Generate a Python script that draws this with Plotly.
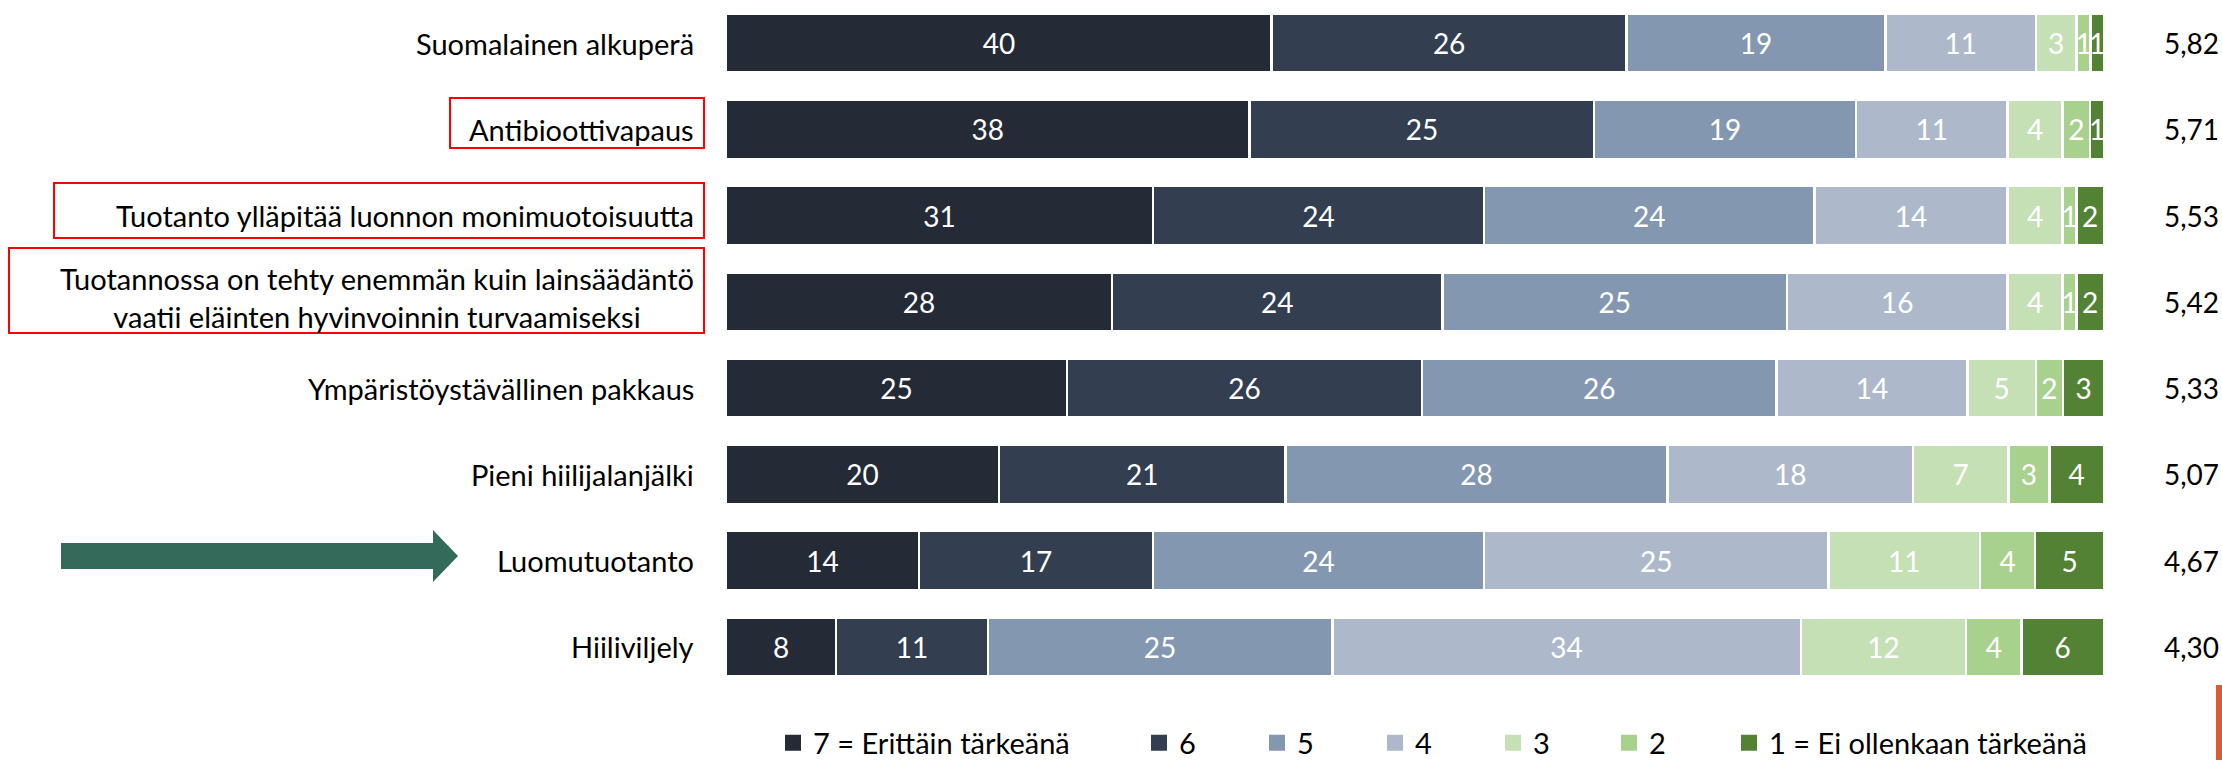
import plotly.graph_objects as go

# ---------------- data ----------------
categories = [
    "Suomalainen alkuperä",
    "Antibioottivapaus",
    "Tuotanto ylläpitää luonnon monimuotoisuutta",
    "Tuotannossa on tehty enemmän kuin lainsäädäntö<br>vaatii eläinten hyvinvoinnin turvaamiseksi",
    "Ympäristöystävällinen pakkaus",
    "Pieni hiilijalanjälki",
    "Luomutuotanto",
    "Hiiliviljely",
]
series_names = ["7 = Erittäin tärkeänä", "6", "5", "4", "3", "2", "1 = Ei ollenkaan tärkeänä"]
v7 = [40, 38, 31, 28, 25, 20, 14, 8]
v6 = [26, 25, 24, 24, 26, 21, 17, 11]
v5 = [19, 19, 24, 25, 26, 28, 24, 25]
v4 = [11, 11, 14, 16, 14, 18, 25, 34]
v3 = [3, 4, 4, 4, 5, 7, 11, 12]
v2 = [1, 2, 1, 1, 2, 3, 4, 4]
v1 = [1, 1, 2, 2, 3, 4, 5, 6]
means = ["5,82", "5,71", "5,53", "5,42", "5,33", "5,07", "4,67", "4,30"]

series_values = [v7, v6, v5, v4, v3, v2, v1]
colors = ["#242a36", "#333f50", "#8497b0", "#adb9ca", "#c5e0b4", "#a9d18e", "#548235"]

# ---------------- geometry helpers (pixels -> paper) ----------------
W, H = 2222, 760
L, R, T, B = 726, 2104, 0, 690
def px(X):
    return (X - L) / (R - L)
def py(Y):
    return (B - Y) / (B - T)

FONT = "Lato, Carlito, Calibri, sans-serif"
FS_LABEL = 29
FS_NUM = 28
FS_LEG = 29

fig = go.Figure()
for i, (name, vals, col) in enumerate(zip(series_names, series_values, colors)):
    fig.add_trace(go.Bar(
        y=categories, x=vals, name=name, orientation="h",
        marker=dict(color=col, line=dict(color="white", width=2.5)),
        text=[str(v) for v in vals], texttemplate="%{text}",
        textposition="inside", insidetextanchor="middle", textangle=0,
        textfont=dict(color="white", size=FS_NUM, family=FONT),
        showlegend=False, hoverinfo="skip",
    ))

# legend entries (one legend box per entry so spacing matches the reference)
legend_left = [786, 1152, 1270, 1388, 1506, 1622, 1742]
layout_legends = {}
for i, (name, col, sq) in enumerate(zip(series_names, colors, legend_left)):
    lg = "legend" if i == 0 else f"legend{i+1}"
    fig.add_trace(go.Scatter(
        x=[None], y=[None], mode="markers", name=name,
        marker=dict(symbol="square", size=16, color=col),
        legend=lg, showlegend=True, hoverinfo="skip",
    ))
    layout_legends[lg] = dict(
        x=px(sq - 13), y=py(743), xanchor="left", yanchor="middle",
        orientation="h", bgcolor="rgba(0,0,0,0)", borderwidth=0,
        font=dict(size=FS_LEG, family=FONT, color="black"),
        itemclick=False, itemdoubleclick=False,
    )

annotations = []
for cat in categories:
    multiline = "<br>" in cat
    annotations.append(dict(
        x=px(696), xref="paper", y=cat, yref="y", xanchor="right", yanchor="middle",
        text=cat, showarrow=False, align="center", yshift=4 if multiline else 0,
        font=dict(size=FS_LABEL, family=FONT, color="black"),
    ))
for cat, m in zip(categories, means):
    annotations.append(dict(
        x=px(2162), xref="paper", y=cat, yref="y", xanchor="left", yanchor="middle",
        text=m, showarrow=False, font=dict(size=FS_NUM, family=FONT, color="black"),
    ))

shapes = []
boxes = [(450, 98, 704, 148), (54, 183, 704, 238), (9, 248, 704, 333)]
for (x0, y0, x1, y1) in boxes:
    shapes.append(dict(type="rect", xref="paper", yref="paper",
                       x0=px(x0), x1=px(x1), y0=py(y1), y1=py(y0),
                       line=dict(color="#ff0000", width=2), fillcolor="rgba(0,0,0,0)"))
arrow_pts = [(61, 543), (433, 543), (433, 530), (458, 556), (433, 582), (433, 569), (61, 569)]
path = "M " + " L ".join(f"{px(x):.5f},{py(y):.5f}" for x, y in arrow_pts) + " Z"
shapes.append(dict(type="path", xref="paper", yref="paper", path=path,
                   fillcolor="#336a59", line=dict(width=0)))
shapes.append(dict(type="rect", xref="paper", yref="paper",
                   x0=px(2216), x1=px(2230), y0=py(765), y1=py(685),
                   fillcolor="#e05a2b", line=dict(width=0)))

fig.update_layout(
    width=W, height=H,
    margin=dict(l=L, r=W - R, t=T, b=H - B, pad=0, autoexpand=False),
    barmode="stack", barnorm="percent", bargap=0.316,
    plot_bgcolor="white", paper_bgcolor="white",
    xaxis=dict(range=[0, 100], visible=False, fixedrange=True),
    yaxis=dict(categoryorder="array", categoryarray=categories, autorange="reversed",
               showticklabels=False, showgrid=False, zeroline=False, fixedrange=True),
    uniformtext=dict(minsize=FS_NUM, mode="show"),
    annotations=annotations, shapes=shapes,
    showlegend=True,
    **layout_legends,
)

fig.write_html(
    "out.html",
    config={"displayModeBar": False},
    post_script="document.body.style.margin='0';document.body.style.overflow='hidden';",
)
